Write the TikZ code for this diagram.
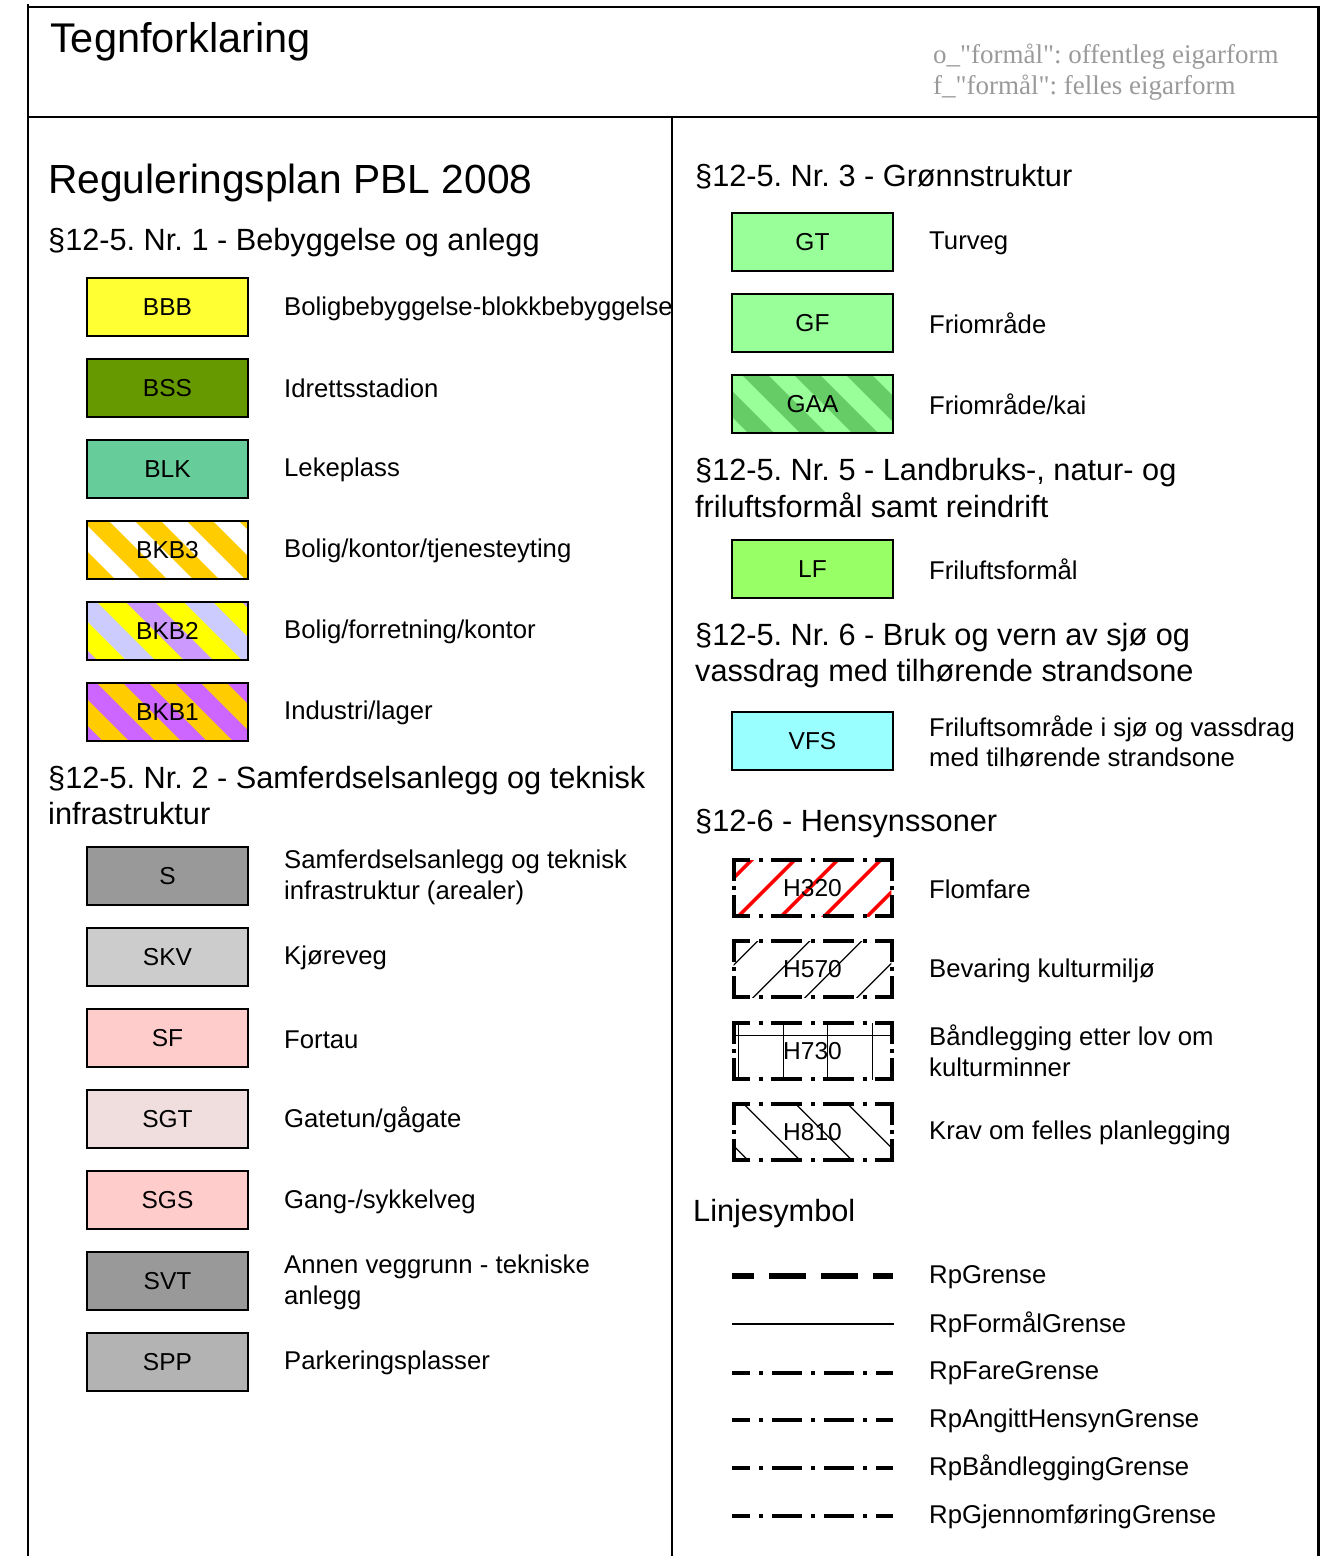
\documentclass[tikz,border=0pt]{standalone}
\usepackage{fontspec}
\setmainfont{Liberation Sans}
\newfontfamily\notefont{Liberation Serif}[Ligatures=TeXOff]
\usetikzlibrary{calc}
\frenchspacing

% area colours
\definecolor{cBBB}{HTML}{FFFF33}
\definecolor{cBSS}{HTML}{669900}
\definecolor{cBLK}{HTML}{66CC99}
\definecolor{cOrange}{HTML}{FFCC00}
\definecolor{cYellow}{HTML}{FFFF00}
\definecolor{cLavender}{HTML}{CCCCFF}
\definecolor{cLilac}{HTML}{CC99FF}
\definecolor{cPurple}{HTML}{CC66FF}
\definecolor{cS}{HTML}{999999}
\definecolor{cSKV}{HTML}{CCCCCC}
\definecolor{cSF}{HTML}{FFCCCC}
\definecolor{cSGT}{HTML}{F0DDDD}
\definecolor{cSGS}{HTML}{FFCCCC}
\definecolor{cSVT}{HTML}{999999}
\definecolor{cSPP}{HTML}{B3B3B3}
\definecolor{cGreen}{HTML}{99FF99}
\definecolor{cDarkGreen}{HTML}{66CC66}
\definecolor{cLF}{HTML}{99FF66}
\definecolor{cVFS}{HTML}{99FFFF}
\definecolor{cNote}{HTML}{9A9A9A}
\definecolor{cHatchRed}{HTML}{FF0000}

% diagonal colour bands (top-left to bottom-right) inside a path picture
% #1 colour, #2 offset along the top edge, #3 band width, #4 period
\newcommand\bandset[4]{%
  \foreach \k in {-4,...,4}{%
    \pgfmathsetmacro\bx{#2+\k*#4}%
    \fill[#1] ($(path picture bounding box.north west)+(\bx,-10)$)
      -- ++(#3,0) -- ++(80,80) -- ++(-#3,0) -- cycle;}}

\tikzset{
  frameline/.style={line width=2.2pt, black},
  symbox/.style={draw=black, line width=2.4pt, minimum width=160.6pt,
    minimum height=57.6pt, inner sep=0pt, font=\fontsize{24.5}{30}\selectfont},
  zonebox/.style={fill=white, minimum width=157.6pt, minimum height=56pt,
    inner sep=0pt, font=\fontsize{24.5}{30}\selectfont},
  legendtext/.style={anchor=base west, inner sep=0pt, font=\fontsize{25.7}{31}\selectfont},
  sectionhead/.style={anchor=base west, inner sep=0pt, font=\fontsize{30.7}{36}\selectfont},
  bigtitle/.style={anchor=base west, inner sep=0pt, font=\fontsize{40.7}{48}\selectfont},
  notetext/.style={anchor=base west, inner sep=0pt, text=cNote,
    font=\notefont\fontsize{27}{32}\selectfont},
  zoneedgeh/.style={line width=4pt, line cap=rect,
    dash pattern=on 27pt off 12.5pt on 0.01pt off 12.5pt, dash phase=12.5pt},
  zoneedgev/.style={line width=4pt, line cap=rect,
    dash pattern=on 30pt off 9pt on 0.01pt off 9pt, dash phase=11pt},
  dashdotsym/.style={line width=4pt, line cap=rect,
    dash pattern=on 26pt off 13pt on 0.01pt off 13pt, dash phase=12pt},
  thickdashsym/.style={line width=6.7pt, dash pattern=on 37pt off 15pt, dash phase=15pt},
  solidsym/.style={line width=2.4pt},
  thinhatch/.style={line width=1.3pt, black},
}

% dash-dot outline of a zone box
\newcommand\zoneedge[1]{%
  \draw[zoneedgeh] (#1.north west) -- (#1.north east);
  \draw[zoneedgeh] (#1.south west) -- (#1.south east);
  \draw[zoneedgev] (#1.north west) -- (#1.south west);
  \draw[zoneedgev] (#1.north east) -- (#1.south east);}

\begin{document}
\begin{tikzpicture}[x=1pt,y=-1pt]
\useasboundingbox (0,0) rectangle (1326,1556);

% ---- frame ----
\draw[frameline] (27.7,4) -- (27.7,1556);
\draw[frameline] (27.7,7) -- (1318,7);
\draw[line width=3pt] (1318,5.9) -- (1318,1556);
\draw[frameline] (27.7,117) -- (1318,117);
\draw[frameline] (672.3,117) -- (672.3,1556);

% ---- header ----
\node[bigtitle, font=\fontsize{41.5}{48}\selectfont] (title) at (50,52) {Tegnforklaring};
\node[notetext] (noteo) at (933,63) {o\_"formål": offentleg eigarform};
\node[notetext] (notef) at (933,94) {f\_"formål": felles eigarform};

% ---- left column ----
\node[bigtitle] (plan) at (48,193) {Reguleringsplan PBL 2008};
\node[sectionhead] (sec1) at (48,250) {§12-5. Nr. 1 - Bebyggelse og anlegg};

\node[symbox, fill=cBBB] (bbb) at (167.5,307) {BBB};
\node[legendtext] (bbbl) at (284,315) {Boligbebyggelse-blokkbebyggelse};

\node[symbox, fill=cBSS] (bss) at (167.5,388) {BSS};
\node[legendtext] (bssl) at (284,397) {Idrettsstadion};

\node[symbox, fill=cBLK] (blk) at (167.5,469) {BLK};
\node[legendtext] (blkl) at (284,476) {Lekeplass};

\node[symbox, fill=white,
  path picture={\bandset{cOrange}{38}{26}{52}}] (bkb3) at (167.5,550) {BKB3};
\node[legendtext] (bkb3l) at (284,557) {Bolig/kontor/tjenesteyting};

\node[symbox, fill=cYellow,
  path picture={\bandset{cLavender}{87}{29}{116}\bandset{cLilac}{29}{29}{116}}]
  (bkb2) at (167.5,631) {BKB2};
\node[legendtext] (bkb2l) at (284,638) {Bolig/forretning/kontor};

\node[symbox, fill=cPurple,
  path picture={\bandset{cOrange}{0}{26}{52}}] (bkb1) at (167.5,712) {BKB1};
\node[legendtext] (bkb1l) at (284,719) {Industri/lager};

\node[sectionhead] (sec2a) at (48,788) {§12-5. Nr. 2 - Samferdselsanlegg og teknisk};
\node[sectionhead] (sec2b) at (48,824) {infrastruktur};

\node[symbox, fill=cS] (s) at (167.5,876) {S};
\node[legendtext] (sla) at (284,868) {Samferdselsanlegg og teknisk};
\node[legendtext] (slb) at (284,899) {infrastruktur (arealer)};

\node[symbox, fill=cSKV] (skv) at (167.5,957) {SKV};
\node[legendtext] (skvl) at (284,964) {Kjøreveg};

\node[symbox, fill=cSF] (sf) at (167.5,1038) {SF};
\node[legendtext] (sfl) at (284,1048) {Fortau};

\node[symbox, fill=cSGT] (sgt) at (167.5,1119) {SGT};
\node[legendtext] (sgtl) at (284,1127) {Gatetun/gågate};

\node[symbox, fill=cSGS] (sgs) at (167.5,1200) {SGS};
\node[legendtext] (sgsl) at (284,1208) {Gang-/sykkelveg};

\node[symbox, fill=cSVT] (svt) at (167.5,1281) {SVT};
\node[legendtext] (svtla) at (284,1273) {Annen veggrunn - tekniske};
\node[legendtext] (svtlb) at (284,1304) {anlegg};

\node[symbox, fill=cSPP] (spp) at (167.5,1362) {SPP};
\node[legendtext] (sppl) at (284,1369) {Parkeringsplasser};

% ---- right column ----
\node[sectionhead] (sec3) at (695,186) {§12-5. Nr. 3 - Grønnstruktur};

\node[symbox, fill=cGreen] (gt) at (812.5,242) {GT};
\node[legendtext] (gtl) at (929,249) {Turveg};

\node[symbox, fill=cGreen] (gf) at (812.5,323) {GF};
\node[legendtext] (gfl) at (929,333) {Friområde};

\node[symbox, fill=cGreen,
  path picture={\bandset{cDarkGreen}{0}{26}{52}}] (gaa) at (812.5,404) {GAA};
\node[legendtext] (gaal) at (929,414) {Friområde/kai};

\node[sectionhead] (sec5a) at (695,480) {§12-5. Nr. 5 - Landbruks-, natur- og};
\node[sectionhead] (sec5b) at (695,517) {friluftsformål samt reindrift};

\node[symbox, fill=cLF] (lf) at (812.5,569) {LF};
\node[legendtext] (lfl) at (929,579) {Friluftsformål};

\node[sectionhead] (sec6a) at (695,645) {§12-5. Nr. 6 - Bruk og vern av sjø og};
\node[sectionhead] (sec6b) at (695,681) {vassdrag med tilhørende strandsone};

\node[symbox, fill=cVFS] (vfs) at (812.5,741) {VFS};
\node[legendtext] (vfsla) at (929,736) {Friluftsområde i sjø og vassdrag};
\node[legendtext] (vfslb) at (929,766) {med tilhørende strandsone};

\node[sectionhead] (sec126) at (695,831) {§12-6 - Hensynssoner};

% zone boxes with hatching
\node[zonebox, path picture={
    \foreach \k in {-2,...,4}
      \draw[cHatchRed, line width=3.5pt]
        ($(path picture bounding box.south west)+(5+\k*43-10,10)$) -- ++(90,-90);}]
  (h320) at (812.5,888) {H320};
\zoneedge{h320}
\node[legendtext] (h320l) at (929,898) {Flomfare};

\node[zonebox, path picture={
    \foreach \k in {-2,...,3}
      \draw[thinhatch]
        ($(path picture bounding box.south west)+(20+\k*52-10,10)$) -- ++(90,-90);}]
  (h570) at (812.5,969) {H570};
\zoneedge{h570}
\node[legendtext] (h570l) at (929,977) {Bevaring kulturmiljø};

\node[zonebox, path picture={
    \draw[thinhatch] ($(path picture bounding box.north west)+(-5,12.3)$) -- ++(170,0);
    \foreach \vx in {4.7,49.7,94,138.5}
      \draw[thinhatch] ($(path picture bounding box.north west)+(\vx,-5)$) -- ++(0,70);}]
  (h730) at (812.5,1051) {H730};
\zoneedge{h730}
\node[legendtext] (h730la) at (929,1045) {Båndlegging etter lov om};
\node[legendtext] (h730lb) at (929,1076) {kulturminner};

\node[zonebox, path picture={
    \foreach \k in {-2,...,3}
      \draw[thinhatch]
        ($(path picture bounding box.north west)+(10+\k*52-10,-10)$) -- ++(90,90);}]
  (h810) at (812.5,1132) {H810};
\zoneedge{h810}
\node[legendtext] (h810l) at (929,1139) {Krav om felles planlegging};

% ---- line symbols ----
\node[sectionhead] (linjer) at (693,1221) {Linjesymbol};

\coordinate (rpa) at (732,1276);   \coordinate (rpb) at (893,1276);
\draw[thickdashsym] (rpa) -- (rpb);
\node[legendtext] (rpl) at (929,1283) {RpGrense};

\coordinate (rfa) at (732,1324);   \coordinate (rfb) at (894,1324);
\draw[solidsym] (rfa) -- (rfb);
\node[legendtext] (rfl) at (929,1332) {RpFormålGrense};

\coordinate (rfga) at (734,1373);  \coordinate (rfgb) at (891,1373);
\draw[dashdotsym] (rfga) -- (rfgb);
\node[legendtext] (rfgl) at (929,1379) {RpFareGrense};

\coordinate (raha) at (734,1420);  \coordinate (rahb) at (891,1420);
\draw[dashdotsym] (raha) -- (rahb);
\node[legendtext] (rahl) at (929,1427) {RpAngittHensynGrense};

\coordinate (rba) at (734,1468);   \coordinate (rbb) at (891,1468);
\draw[dashdotsym] (rba) -- (rbb);
\node[legendtext] (rbl) at (929,1475) {RpBåndleggingGrense};

\coordinate (rga) at (734,1516);   \coordinate (rgb) at (891,1516);
\draw[dashdotsym] (rga) -- (rgb);
\node[legendtext] (rgl) at (929,1523) {RpGjennomføringGrense};

\end{tikzpicture}
\end{document}
